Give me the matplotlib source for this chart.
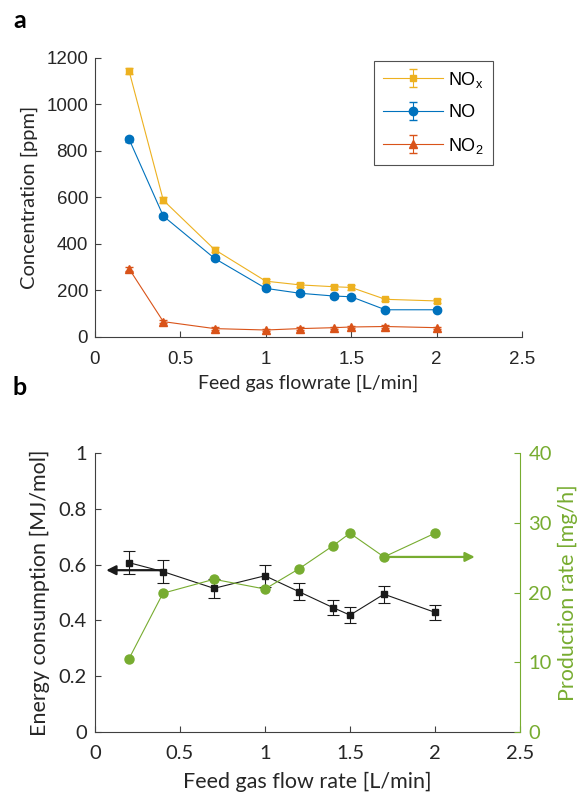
import matplotlib.pyplot as plt

plt.rcParams['font.family'] = ['Liberation Sans', 'DejaVu Sans']
plt.rcParams['mathtext.fontset'] = 'custom'
plt.rcParams['mathtext.rm'] = 'Liberation Sans'

# shared x values (feed gas flow rate, L/min)
flow = [0.2, 0.4, 0.7, 1.0, 1.2, 1.4, 1.5, 1.7, 2.0]

# panel a: concentrations [ppm]
nox = [1143, 588, 376, 240, 224, 216, 213, 162, 155]
nox_err = [14, 12, 10, 9, 8, 8, 9, 7, 7]
no = [850, 520, 338, 209, 188, 176, 173, 117, 117]
no_err = [10, 10, 9, 8, 7, 7, 7, 6, 6]
no2 = [293, 66, 36, 30, 36, 40, 43, 45, 40]
no2_err = [9, 8, 6, 5, 5, 5, 5, 5, 5]

# panel b: energy consumption [MJ/mol] and production rate [mg/h]
energy = [0.607, 0.575, 0.515, 0.560, 0.503, 0.446, 0.419, 0.494, 0.429]
energy_err = [0.042, 0.040, 0.034, 0.040, 0.031, 0.028, 0.028, 0.030, 0.028]
production = [10.5, 19.9, 21.9, 20.5, 23.4, 26.7, 28.5, 25.1, 28.5]

C_NOX = '#EDB120'
C_NO = '#0072BD'
C_NO2 = '#D95319'
C_GREEN = '#77AC30'
SPINE = '#404040'
bfont = ['Lato', 'DejaVu Sans']

fig = plt.figure(figsize=(5.77, 7.94), dpi=100)

# ---------- panel a ----------
ax1 = fig.add_axes([0.1646, 0.5756, 0.7401, 0.3514])
ax1.errorbar(flow, nox, yerr=nox_err, color=C_NOX, marker='s', ms=5,
             lw=0.8, capsize=3, elinewidth=0.8, label='NO$_\\mathregular{x}$')
ax1.errorbar(flow, no, yerr=no_err, color=C_NO, marker='o', ms=6,
             lw=0.8, capsize=3, elinewidth=0.8, label='NO')
ax1.errorbar(flow, no2, yerr=no2_err, color=C_NO2, marker='^', ms=6,
             lw=0.8, capsize=3, elinewidth=0.8, label='NO$_\\mathregular{2}$')
ax1.set_xlim(0, 2.5)
ax1.set_ylim(0, 1200)
ax1.set_xticks([0, 0.5, 1, 1.5, 2, 2.5])
ax1.set_xticklabels(['0', '0.5', '1', '1.5', '2', '2.5'])
ax1.set_yticks([0, 200, 400, 600, 800, 1000, 1200])
for s in ['top', 'right']:
    ax1.spines[s].set_visible(False)
for s in ['left', 'bottom']:
    ax1.spines[s].set_color(SPINE)
    ax1.spines[s].set_linewidth(0.8)
ax1.tick_params(direction='in', length=4, width=0.8, color=SPINE,
                labelsize=13.5, labelcolor='#262626', pad=5)
ax1.tick_params(axis='x', pad=10)
ax1.set_xlabel('Feed gas flowrate [L/min]', fontsize=14, family=bfont,
               color='#262626', labelpad=5)
ax1.set_ylabel('Concentration [ppm]', fontsize=14.5, family=bfont,
               color='#262626', labelpad=6)
leg = ax1.legend(loc='upper right', bbox_to_anchor=(0.932, 0.99), fontsize=13,
                 frameon=True, fancybox=False, edgecolor='#262626',
                 borderaxespad=0, handlelength=3.3, borderpad=0.5,
                 labelspacing=0.8, handletextpad=0.3)
leg.get_frame().set_linewidth(0.8)

fig.text(0.0225, 0.9647, 'a', fontsize=18, fontweight='bold', family=bfont,
         va='baseline')

# ---------- panel b ----------
ax2 = fig.add_axes([0.1646, 0.078, 0.7366, 0.3515])
ax2.errorbar(flow, energy, yerr=energy_err, color='#1a1a1a', marker='s', ms=5,
             lw=0.8, capsize=4, elinewidth=0.8, capthick=0.8)
ax2.set_xlim(0, 2.5)
ax2.set_ylim(0, 1)
ax2.set_xticks([0, 0.5, 1, 1.5, 2, 2.5])
ax2.set_xticklabels(['0', '0.5', '1', '1.5', '2', '2.5'], family=bfont)
ax2.set_yticks([0, 0.2, 0.4, 0.6, 0.8, 1])
ax2.set_yticklabels(['0', '0.2', '0.4', '0.6', '0.8', '1'], family=bfont)
ax2.spines['top'].set_visible(False)
ax2.spines['right'].set_visible(False)
for s in ['left', 'bottom']:
    ax2.spines[s].set_color(SPINE)
    ax2.spines[s].set_linewidth(0.8)
ax2.tick_params(direction='in', length=4, width=0.8, color=SPINE,
                labelsize=14.5, labelcolor='#262626', pad=6)
ax2.tick_params(axis='x', pad=9.5)
ax2.set_xlabel('Feed gas flow rate [L/min]', fontsize=15.5, family=bfont,
               color='#262626', labelpad=7)
ax2.set_ylabel('Energy consumption [MJ/mol]', fontsize=15.5, family=bfont,
               color='#262626', labelpad=6)
ax2.annotate('', xy=(0.05, 0.58), xytext=(0.42, 0.58),
             arrowprops=dict(arrowstyle='-|>', color='#1a1a1a', lw=1.6,
                             mutation_scale=14))

ax3 = ax2.twinx()
ax3.plot(flow, production, color=C_GREEN, marker='o', ms=6.5, lw=0.8,
         markeredgecolor=C_GREEN)
ax3.set_ylim(0, 40)
ax3.set_yticks([0, 10, 20, 30, 40])
ax3.set_yticklabels(['0', '10', '20', '30', '40'], family=bfont)
for s in ['top', 'left', 'bottom']:
    ax3.spines[s].set_visible(False)
ax3.spines['right'].set_color(C_GREEN)
ax3.spines['right'].set_linewidth(0.8)
ax3.tick_params(direction='in', length=4, width=0.8, color=C_GREEN,
                labelsize=14.5, labelcolor=C_GREEN, pad=6)
ax3.set_ylabel('Production rate [mg/h]', fontsize=15.5, family=bfont,
               color=C_GREEN, labelpad=4)
ax3.annotate('', xy=(2.25, 25.1), xytext=(1.7, 25.1),
             arrowprops=dict(arrowstyle='-|>', color=C_GREEN, lw=1.6,
                             mutation_scale=14))

fig.text(0.0225, 0.5025, 'b', fontsize=18, fontweight='bold', family=bfont,
         va='baseline')

fig.savefig('out.png', dpi=100)
